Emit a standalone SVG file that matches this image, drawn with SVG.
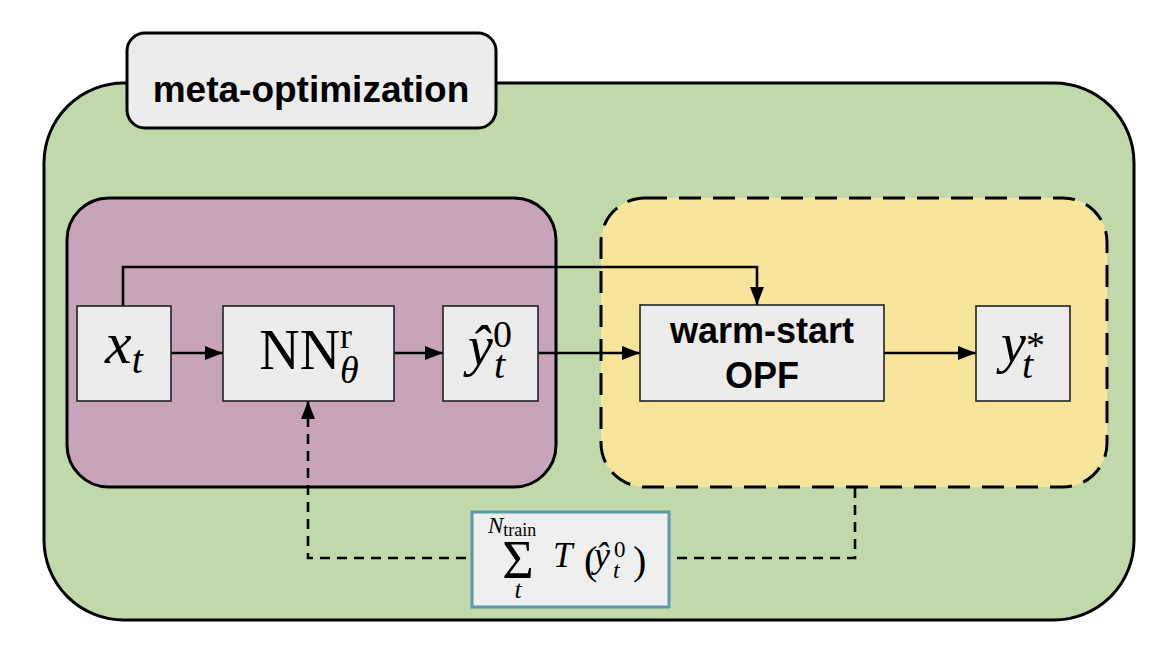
<svg xmlns="http://www.w3.org/2000/svg" width="1170" height="661" viewBox="0 0 1170 661">
<style>
.cont{stroke:#000;stroke-width:3}
.node{fill:#ececec;stroke:#222;stroke-width:1.6}
.conn{fill:none;stroke:#000;stroke-width:2.6}
.dash{stroke-dasharray:10 7}
.m{font-family:"Liberation Serif","Times New Roman",serif;fill:#000}
.i{font-style:italic}
.b{font-family:"Liberation Sans",Arial,sans-serif;font-weight:bold;fill:#000}
</style>
<defs>
<marker id="ah" markerUnits="userSpaceOnUse" markerWidth="20" markerHeight="16" refX="18" refY="7" orient="auto">
<path d="M0,0 L18,7 L0,14 z" fill="#000"/>
</marker>
</defs>
<rect width="1170" height="661" fill="#fff"/>
<g id="meta-optimization">
<rect class="cont" x="44" y="83" width="1090" height="537" rx="80" ry="80" fill="#c0d8aa"/>
<rect class="cont" x="127" y="33" width="369" height="95" rx="18" ry="18" fill="#ececec"/>
<text class="b" x="311" y="102" font-size="37" text-anchor="middle">meta-optimization</text>
</g>
<g id="nn-region">
<rect class="cont" x="67" y="198" width="489" height="289" rx="42" ry="42" fill="#c8a4b9"/>
</g>
<g id="opf-region">
<rect class="cont" x="601" y="198" width="506" height="289" rx="44" ry="44" fill="#f8e59c" stroke-dasharray="22 12"/>
</g>
<g id="connectors">
<path class="conn" d="M171,353 H223" marker-end="url(#ah)"/>
<path class="conn" d="M394,353 H443" marker-end="url(#ah)"/>
<path class="conn" d="M538,353 H640" marker-end="url(#ah)"/>
<path class="conn" d="M884,353 H976" marker-end="url(#ah)"/>
<path class="conn" d="M123,306 V267 H757 V305" marker-end="url(#ah)"/>
<path class="conn dash" d="M855,488 V558 H308 V401" marker-end="url(#ah)"/>
</g>
<g id="x_t">
<rect class="node" x="77" y="306" width="94" height="95"/>
<text class="m i" x="124" y="363" font-size="60" text-anchor="middle">x<tspan font-size="40" dy="10">t</tspan></text>
</g>
<g id="nn">
<rect class="node" x="223" y="306" width="171" height="95"/>
<text class="m" x="309" y="369" font-size="56" text-anchor="middle">NN<tspan font-size="36" dy="-21">r</tspan><tspan class="i" font-size="38" dx="-12" dy="35">θ</tspan></text>
</g>
<g id="y_hat">
<rect class="node" x="443" y="306" width="95" height="95"/>
<text class="m" x="490" y="365" font-size="56" text-anchor="middle"><tspan class="i">ŷ</tspan><tspan font-size="38" dy="-18">0</tspan><tspan class="i" font-size="40" dx="-18" dy="31">t</tspan></text>
</g>
<g id="warm-start">
<rect class="node" x="640" y="305" width="244" height="96"/>
<text class="b" x="762" y="343" font-size="36" text-anchor="middle">warm-start</text>
<text class="b" x="762" y="388" font-size="36" text-anchor="middle">OPF</text>
</g>
<g id="y_star">
<rect class="node" x="976" y="306" width="94" height="95"/>
<text class="m i" x="1023" y="362" font-size="56" text-anchor="middle">y<tspan font-style="normal" font-size="38" dy="-4">*</tspan><tspan font-size="40" dx="-23" dy="20">t</tspan></text>
</g>
<g id="loss">
<rect x="472" y="512" width="197" height="95" fill="#efefef" stroke="#5b9aa9" stroke-width="3"/>
<text class="m" x="518" y="578" font-size="54" text-anchor="middle">Σ</text>
<text class="m" x="488" y="533" font-size="23"><tspan class="i">N</tspan><tspan font-size="18" dy="3">train</tspan></text>
<text class="m i" x="518" y="598" font-size="26" text-anchor="middle">t</text>
<text class="m i" x="553" y="567" font-size="35">T</text>
<text class="m" x="584" y="574" font-size="40">(</text>
<text class="m i" x="594" y="567" font-size="36">ŷ</text>
<text class="m" x="614" y="557" font-size="23">0</text>
<text class="m i" x="613" y="578" font-size="24">t</text>
<text class="m" x="633" y="574" font-size="40">)</text>
</g>
</svg>
